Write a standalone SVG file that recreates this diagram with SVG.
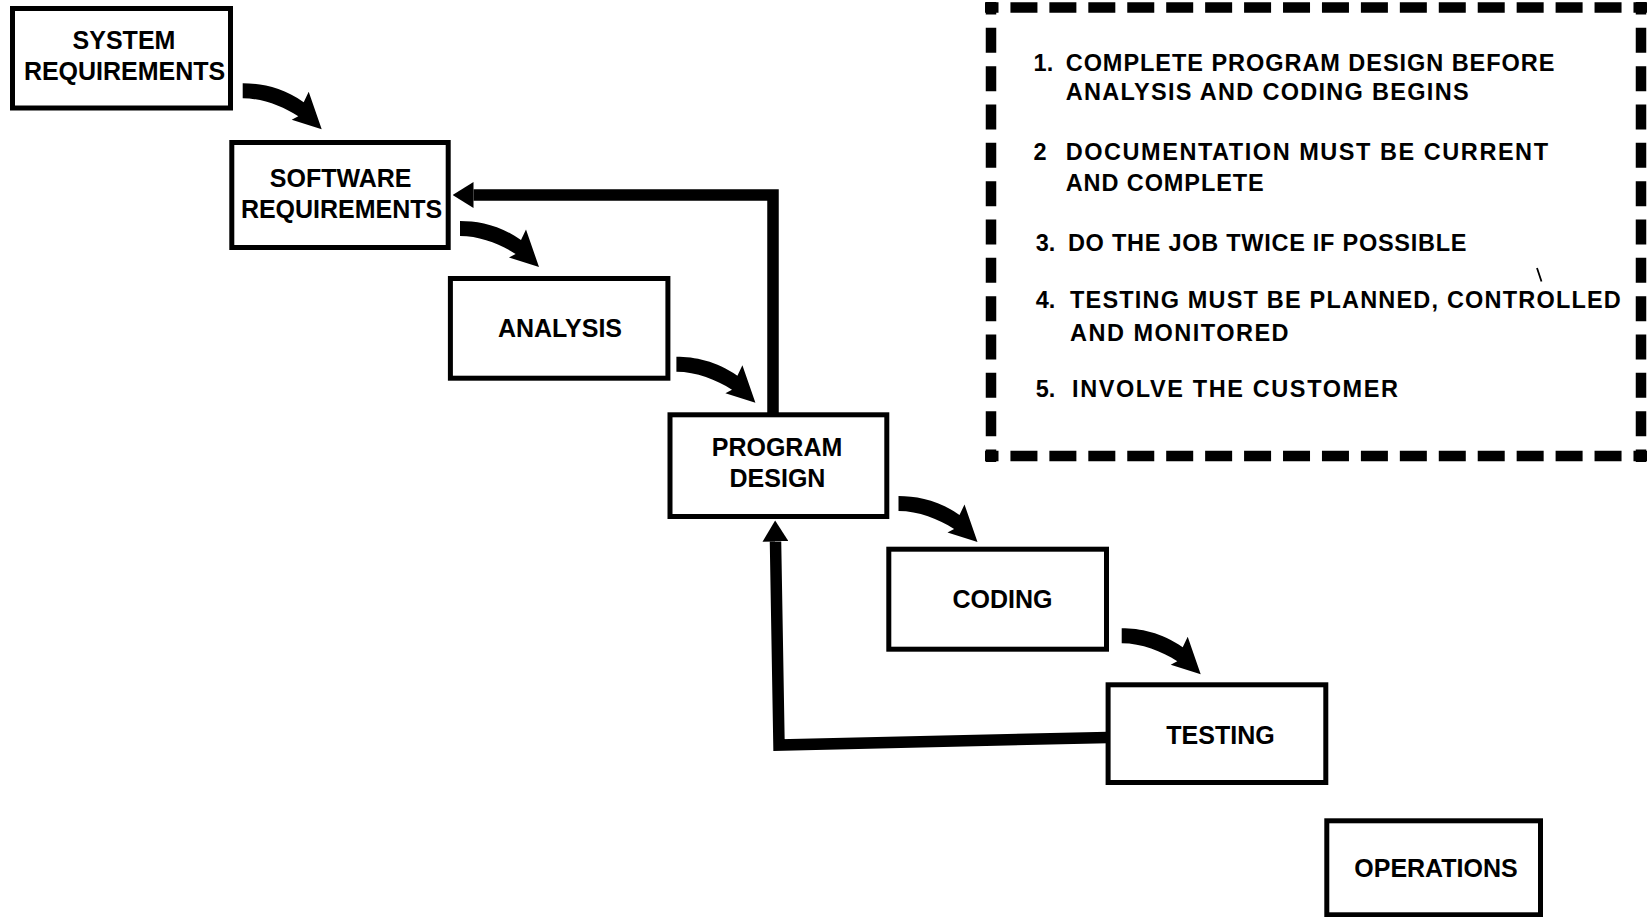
<svg xmlns="http://www.w3.org/2000/svg" xmlns:xlink="http://www.w3.org/1999/xlink" width="1652" height="917" viewBox="0 0 1652 917">
  <style>
    .box { fill: #fff; stroke: #000; stroke-width: 5; stroke-linejoin: miter; }
    .lbl { font-family: "Liberation Sans", Arial, sans-serif; font-weight: bold; font-size: 25px; fill: #000; text-anchor: middle; }
    .note { font-family: "Liberation Sans", Arial, sans-serif; font-weight: bold; font-size: 23.5px; fill: #000; }
    .feedback { fill: none; stroke: #000; stroke-width: 11.5; stroke-linejoin: miter; }
    .dash-h { fill: none; stroke: #000; stroke-width: 10.5; stroke-dasharray: 27 11.94; stroke-dashoffset: 13.5; }
    .dash-v { fill: none; stroke: #000; stroke-width: 10.5; stroke-dasharray: 25 13.33; stroke-dashoffset: 12.5; }
  </style>
  <defs>
    <!-- bent flow arrow: shaft starts at (0,0)-(0,15), head points down-right -->
    <path id="flow-arrow" d="M0,0 C18,0 40,4 61,19 L66,8.5 L79,46 L49,36.5 L55.6,33 C40,23 20,15 0,15 Z" fill="#000"/>
    <marker id="head" markerUnits="userSpaceOnUse" viewBox="0 0 21 26" markerWidth="21" markerHeight="26" refX="0" refY="13" orient="auto">
      <path d="M0,0 L21,13 L0,26 Z" fill="#000"/>
    </marker>
  </defs>

  <rect width="1652" height="917" fill="#fff"/>

  <!-- connectors -->
  <g id="connectors">
    <use xlink:href="#flow-arrow" href="#flow-arrow" transform="translate(242.7,83.3)"/>
    <use xlink:href="#flow-arrow" href="#flow-arrow" transform="translate(460,221)"/>
    <use xlink:href="#flow-arrow" href="#flow-arrow" transform="translate(676.4,356.7)"/>
    <use xlink:href="#flow-arrow" href="#flow-arrow" transform="translate(898.5,496)"/>
    <use xlink:href="#flow-arrow" href="#flow-arrow" transform="translate(1121.7,628.3)"/>
    <!-- program design back to software requirements -->
    <path class="feedback" d="M773,415 L773,195 L473.5,195" marker-end="url(#head)"/>
    <!-- testing back to program design -->
    <path class="feedback" d="M1108,737.5 L779,745 L775.5,541.5" marker-end="url(#head)"/>
  </g>

  <!-- process steps -->
  <g id="system-requirements">
    <rect class="box" x="12.5" y="8.5" width="218" height="99.5"/>
    <text class="lbl" x="124" y="49.3">SYSTEM</text>
    <text class="lbl" x="124.6" y="80">REQUIREMENTS</text>
  </g>
  <g id="software-requirements">
    <rect class="box" x="231.8" y="142.5" width="216.4" height="105"/>
    <text class="lbl" x="340.7" y="186.7">SOFTWARE</text>
    <text class="lbl" x="341.6" y="218.3">REQUIREMENTS</text>
  </g>
  <g id="analysis">
    <rect class="box" x="450.4" y="278.5" width="217.5" height="99.7"/>
    <text class="lbl" x="560" y="336.7">ANALYSIS</text>
  </g>
  <g id="program-design">
    <rect class="box" x="670" y="414.8" width="216.8" height="101.7"/>
    <text class="lbl" x="777" y="456">PROGRAM</text>
    <text class="lbl" x="777.5" y="487.3">DESIGN</text>
  </g>
  <g id="coding">
    <rect class="box" x="888.8" y="549.2" width="217.7" height="100"/>
    <text class="lbl" x="1002.5" y="608.3">CODING</text>
  </g>
  <g id="testing">
    <rect class="box" x="1108.1" y="684.8" width="217.7" height="97.7"/>
    <text class="lbl" x="1220.5" y="744.3">TESTING</text>
  </g>
  <g id="operations">
    <rect class="box" x="1326.8" y="820.8" width="213.7" height="94"/>
    <text class="lbl" x="1436" y="877.3">OPERATIONS</text>
  </g>

  <!-- dashed note panel -->
  <g id="notes">
    <path class="dash-h" d="M985,7.5 H1647"/>
    <path class="dash-h" d="M985,456 H1647"/>
    <path class="dash-v" d="M991,2 V462"/>
    <path class="dash-v" d="M1641,2 V462"/>

    <text class="note" x="1033.6" y="70.7">1.</text>
    <text class="note" x="1065.7" y="70.7" textLength="488.7" lengthAdjust="spacing">COMPLETE PROGRAM DESIGN BEFORE</text>
    <text class="note" x="1065.7" y="100" textLength="402.9" lengthAdjust="spacing">ANALYSIS AND CODING BEGINS</text>

    <text class="note" x="1033.6" y="160">2</text>
    <text class="note" x="1065.7" y="160" textLength="482.3" lengthAdjust="spacing">DOCUMENTATION MUST BE CURRENT</text>
    <text class="note" x="1065.7" y="190.7" textLength="198" lengthAdjust="spacing">AND COMPLETE</text>

    <text class="note" x="1035.7" y="250.7">3.</text>
    <text class="note" x="1067.9" y="250.7" textLength="398.6" lengthAdjust="spacing">DO THE JOB TWICE IF POSSIBLE</text>

    <text class="note" x="1035.7" y="308.3">4.</text>
    <text class="note" x="1070" y="308.3" textLength="550.8" lengthAdjust="spacing">TESTING MUST BE PLANNED, CONTROLLED</text>
    <text class="note" x="1070" y="340.7" textLength="218.6" lengthAdjust="spacing">AND MONITORED</text>

    <text class="note" x="1035.7" y="397.3">5.</text>
    <text class="note" x="1072" y="397.3" textLength="326" lengthAdjust="spacing">INVOLVE THE CUSTOMER</text>

    <!-- small pen tick above CONTROLLED -->
    <line x1="1537" y1="268" x2="1541.5" y2="281.5" stroke="#000" stroke-width="1.8"/>
  </g>
</svg>
